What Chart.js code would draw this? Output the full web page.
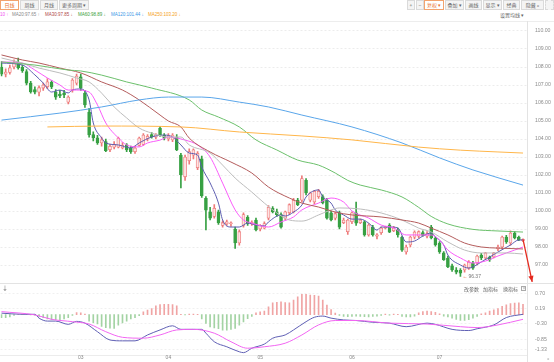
<!DOCTYPE html>
<html><head><meta charset="utf-8">
<script src="https://cdn.jsdelivr.net/npm/chart.js@4.4.1/dist/chart.umd.min.js"></script>
<style>
html,body{margin:0;padding:0;background:#fff;}
#wrap{position:relative;width:554px;height:362px;overflow:hidden;background:#fff;font-family:"Noto Sans CJK SC","Liberation Sans",sans-serif;}
.tab,.btn{position:absolute;top:0;height:10px;border:1px solid #dadada;background:#f4f4f4;color:#666;font-size:5px;line-height:8px;text-align:center;box-sizing:border-box;white-space:nowrap;}
.act{border-color:#f2a36e;background:#fff;color:#e8702a;}
.lg{position:absolute;top:12px;font-family:"Liberation Sans",sans-serif;font-size:4.5px;line-height:6px;white-space:nowrap;}
.hd{position:absolute;top:286px;font-size:5px;line-height:6px;color:#666;white-space:nowrap;}
.ln{position:absolute;background:#e3e3e3;}
canvas{position:absolute;left:0;}
</style></head>
<body><div id="wrap">
<div class="tab act" style="left:0;width:19px">日线</div>
<div class="tab" style="left:20px;width:19px">周线</div>
<div class="tab" style="left:40px;width:18px">月线</div>
<div class="tab" style="left:59px;width:30px">更多周期 ▾</div>
<div class="btn" style="left:407px;width:8px">+</div>
<div class="btn" style="left:416px;width:8px">−</div>
<div class="btn act" style="left:424px;width:20px">复权 ▾</div>
<div class="btn" style="left:445px;width:19px">叠加 ▾</div>
<div class="btn" style="left:465px;width:17px">画线</div>
<div class="btn" style="left:483px;width:19px">显示 ▾</div>
<div class="btn" style="left:503px;width:17px">经典</div>
<div class="btn" style="left:521px;width:23px">隐藏 »</div>
<div class="btn" style="left:545px;width:9px;border-style:dashed">&nbsp;</div>

<span class="lg" style="left:0;color:#f050f0">10 ↑</span>
<span class="lg" style="left:12px;color:#888">MA20:97.65 ↑</span>
<span class="lg" style="left:45px;color:#b04848">MA30:97.85 ↓</span>
<span class="lg" style="left:78px;color:#3a9e3a">MA60:98.89 ↓</span>
<span class="lg" style="left:111px;color:#3b96e6">MA120:101.44 ↓</span>
<span class="lg" style="left:148px;color:#f5a020">MA250:103.20 ↓</span>
<span class="lg" style="left:500px;color:#666;font-family:'Noto Sans CJK SC';font-size:5px">设置均线 ▾</span>

<div class="ln" style="left:0;top:21px;width:554px;height:1px;background:#ededed"></div>
<div class="ln" style="left:0;top:283px;width:554px;height:1px"></div>
<div class="ln" style="left:0;top:355px;width:527px;height:1px;background:#ececec"></div>
<div class="ln" style="left:527px;top:21px;width:1px;height:341px"></div>

<canvas id="main" width="554" height="261" style="top:22px"></canvas>
<canvas id="macd" width="554" height="79" style="top:283px"></canvas>

<span class="hd" style="left:2px;top:285px;font-size:6px">↓</span>
<span class="hd" style="left:464px">改参数</span>
<span class="hd" style="left:483px">加指标</span>
<span class="hd" style="left:503px">换指标</span>
<div style="position:absolute;left:521px;top:286px;width:5px;height:5px;border:1px solid #aaa;box-sizing:border-box;font-size:4px;line-height:3px;text-align:center;color:#888">×</div>
<span class="hd" style="left:547px;top:355px;color:#999">»</span>
</div>
<script>
// ---------- data ----------
const opens=[108.00,107.60,107.70,108.00,108.28,107.98,107.75,107.10,106.75,106.60,
106.83,106.90,107.15,106.60,106.50,106.55,106.05,106.72,107.10,107.45,
106.55,105.50,104.25,104.06,103.78,103.85,103.40,103.55,103.55,103.50,
103.67,103.50,103.30,103.65,103.70,104.00,104.25,104.10,104.60,104.20,
104.00,103.95,104.10,103.10,101.90,102.80,103.10,102.40,102.90,100.70,
99.95,99.70,99.95,99.20,99.28,99.30,99.00,98.22,99.20,99.65,
99.28,99.50,99.00,99.05,99.60,100.15,99.95,99.80,99.60,99.90,
99.95,100.60,100.60,101.70,100.60,100.50,100.80,100.80,100.60,99.90,
99.60,99.90,99.35,98.85,99.40,99.90,99.35,99.40,98.67,99.10,
98.60,98.80,99.05,99.22,98.90,98.94,98.55,97.72,98.11,98.55,
98.60,98.80,98.60,99.11,98.50,98.22,97.67,97.39,96.95,96.72,
96.70,96.72,96.83,97.11,97.11,97.55,97.39,97.44,97.44,97.89,
98.00,98.55,98.22,98.78,98.55,98.35];
const highs=[108.30,107.90,108.10,108.40,108.50,108.10,107.85,107.20,106.90,106.95,
107.10,107.35,107.25,106.75,106.70,106.70,106.40,107.35,107.60,107.60,
106.70,105.70,104.40,104.20,104.10,104.00,103.70,103.85,104.10,103.80,
103.75,103.60,103.60,104.10,104.30,104.25,104.35,104.30,104.70,104.30,
104.30,104.30,104.25,103.20,103.10,103.45,103.45,103.30,103.05,100.80,
100.20,100.35,100.05,99.45,99.50,99.40,99.10,98.95,99.90,99.75,
99.45,99.60,99.25,99.40,100.30,100.25,100.10,99.90,100.00,100.40,
100.70,100.70,101.95,101.80,101.05,101.15,101.20,100.90,100.70,100.00,
99.95,100.00,99.60,99.55,99.95,100.50,99.55,99.45,99.30,99.20,
98.75,99.10,99.15,99.30,99.15,99.05,98.60,98.10,98.60,98.90,
98.90,98.90,98.85,99.20,98.55,98.30,97.75,97.50,97.05,96.85,
96.80,97.05,97.25,97.20,97.55,97.65,97.70,97.50,97.70,98.10,
98.60,98.65,98.90,98.85,98.60,98.45];
const lows=[107.50,107.45,107.60,107.90,107.88,107.70,107.00,106.55,106.50,106.40,
106.70,106.80,106.80,106.20,106.30,106.30,105.95,106.60,107.00,106.70,
105.75,104.10,103.90,103.70,103.60,103.30,103.30,103.45,103.50,103.45,
103.30,103.20,103.20,103.60,103.65,103.90,104.05,104.00,104.15,103.95,
103.90,103.85,103.35,101.28,101.70,102.60,102.90,102.30,100.75,98.95,
99.50,99.60,99.25,99.10,99.20,99.15,97.92,98.10,99.10,99.20,
99.20,98.90,98.90,99.00,99.50,99.90,99.70,99.05,99.50,99.80,
99.90,100.30,100.50,100.90,100.50,100.40,100.70,100.40,99.55,99.45,
99.50,99.00,99.30,98.70,99.30,99.20,99.30,98.60,98.60,98.60,
98.45,98.70,99.00,98.80,98.85,98.55,97.75,97.60,98.00,98.45,
98.50,98.60,98.50,98.45,98.05,97.65,97.25,96.85,96.65,96.50,
96.37,96.60,96.75,96.75,97.00,97.30,97.30,97.20,97.40,97.80,
97.90,98.20,98.10,98.45,98.35,98.30];
const closes=[107.60,107.72,107.95,108.22,107.95,107.80,107.10,106.62,106.60,106.85,
107.00,107.18,106.90,106.32,106.40,106.45,106.33,107.28,107.50,106.83,
105.89,104.22,104.06,103.78,103.95,103.35,103.60,103.70,104.05,103.65,
103.40,103.30,103.50,104.05,104.22,104.15,104.12,104.25,104.20,104.05,
104.18,104.22,103.40,102.00,103.00,103.30,103.40,103.20,100.85,100.05,
99.60,100.15,99.35,99.35,99.40,99.34,98.22,98.85,99.80,99.30,
99.38,98.95,99.20,99.30,100.20,99.95,99.80,99.10,99.95,100.35,
100.60,100.35,101.80,101.00,101.00,101.10,101.10,100.45,99.60,99.50,
99.85,99.10,99.50,99.50,99.90,99.33,99.50,98.67,99.22,98.67,
98.68,99.05,99.12,98.83,99.06,98.67,97.83,98.00,98.55,98.83,
98.85,98.65,98.75,98.50,98.11,97.72,97.30,96.90,96.72,96.60,
96.55,97.00,97.17,96.83,97.50,97.39,97.67,97.28,97.67,98.00,
98.55,98.28,98.78,98.50,98.39,98.42];

// moving-average lines, read as [candle index, value]
const ma5=[[0,108.22],[5,108.11],[8,107.56],[10,107.11],[12,106.61],[14,106.72],[16,106.56],[17,106.72],[19,106.78],[21,106.17],[22,104.89],[24,104.06],[25,103.78],[28,103.67],[31,103.5],[33,103.78],[36,104.11],[39,104.22],[41,104.11],[43,103.67],[45,103.22],[47,103.11],[48,102.44],[50,101.56],[52,100.44],[53,99.5],[55,99.11],[57,99.11],[59,99.33],[61,99.22],[63,99.17],[64,99.39],[67,99.78],[68,99.72],[70,99.94],[72,100.33],[73,100.78],[76,101.17],[77,100.78],[79,100.44],[80,100.06],[82,99.78],[84,99.55],[86,99.55],[88,99.33],[90,98.94],[91,99.11],[93,99.11],[95,99.06],[97,98.28],[99,98.33],[101,98.61],[103,98.78],[104,98.56],[106,98.11],[107,97.55],[110,97.0],[112,96.83],[113,96.89],[115,97.17],[117,97.44],[119,97.72],[122,98.11],[124,98.39],[125,98.39]];
const ma10=[[0,108.28],[5,108.22],[8,107.83],[11,107.39],[14,107.0],[16,106.72],[18,106.72],[21,106.61],[23,105.89],[25,104.89],[28,104.06],[30,103.67],[33,103.56],[35,103.78],[38,103.94],[40,104.11],[44,103.94],[47,103.67],[50,103.0],[53,101.55],[56,100.06],[58,99.5],[60,99.33],[64,99.11],[67,99.39],[70,99.67],[72,100.06],[76,100.44],[79,100.72],[82,100.5],[84,100.0],[88,99.61],[91,99.22],[94,99.06],[97,98.67],[100,98.67],[103,98.67],[105,98.39],[107,97.83],[110,97.39],[113,97.11],[116,97.22],[119,97.5],[123,97.83],[125,98.0]];
const ma20=[[0,108.5],[5,108.22],[9,107.94],[14,107.67],[18,107.39],[21,107.17],[24,106.55],[27,105.78],[30,105.17],[33,104.61],[36,104.33],[40,104.11],[43,104.11],[45,103.67],[50,103.22],[53,102.55],[56,101.83],[60,101.05],[63,100.44],[66,99.89],[69,99.5],[72,99.44],[76,99.78],[79,100.06],[81,100.17],[86,100.11],[91,99.89],[96,99.5],[100,99.05],[103,98.83],[107,98.28],[111,97.83],[115,97.67],[121,97.67],[125,97.61]];
const ma30=[[0,108.67],[5,108.39],[9,108.22],[14,107.94],[19,107.67],[24,107.17],[29,106.72],[33,106.17],[38,105.33],[40,105.0],[43,104.67],[45,104.05],[50,103.28],[55,102.72],[60,102.11],[64,101.33],[69,100.72],[72,100.44],[76,100.22],[80,99.94],[84,99.78],[91,99.67],[96,99.5],[100,99.33],[103,99.05],[107,98.67],[111,98.22],[115,98.0],[119,97.94],[125,97.89]];
const ma60=[[0,108.28],[8,108.11],[16,107.83],[19,107.78],[24,107.55],[30,107.17],[36,106.83],[45,106.17],[48,105.61],[52,105.22],[57,104.67],[61,103.95],[66,103.39],[71,102.83],[76,102.55],[80,102.11],[83,101.7],[86,101.44],[91,101.17],[96,100.78],[100,100.2],[103,99.7],[107,99.28],[113,98.98],[119,98.89],[125,98.83]];
const ma120=[[0,105.05],[14,105.44],[24,105.78],[33,106.17],[40,106.33],[48,106.33],[57,106.05],[64,105.78],[72,105.33],[84,104.67],[96,103.78],[105,102.95],[113,102.28],[125,101.44]];
const ma250=[[11,104.67],[24,104.72],[43,104.67],[57,104.39],[72,104.17],[84,103.95],[100,103.55],[110,103.38],[119,103.28],[125,103.22]];

// MACD
const macdHist=[-0.10,-0.10,-0.08,-0.03,0.00,0.01,0.00,-0.01,-0.02,-0.06,
-0.10,-0.15,-0.17,-0.17,-0.17,-0.15,-0.10,-0.03,0.07,0.06,
0.02,-0.22,-0.27,-0.32,-0.40,-0.44,-0.46,-0.47,-0.36,-0.28,
-0.22,-0.15,-0.10,-0.04,0.09,0.15,0.20,0.30,0.34,0.35,
0.35,0.34,0.30,0.01,-0.01,0.02,0.02,0.01,-0.15,-0.30,
-0.42,-0.45,-0.48,-0.53,-0.53,-0.50,-0.47,-0.36,-0.25,-0.14,
-0.06,0.06,0.09,0.12,0.26,0.40,0.42,0.43,0.41,0.40,
0.49,0.60,0.69,0.69,0.66,0.65,0.63,0.49,0.32,0.17,
0.05,-0.03,-0.06,-0.07,-0.06,-0.05,-0.06,-0.07,-0.08,-0.06,
-0.05,-0.03,0.02,-0.02,0.02,0.01,-0.06,-0.08,-0.08,-0.05,
0.06,0.10,0.12,0.10,0.08,0.03,-0.05,-0.08,-0.12,-0.16,
-0.20,-0.20,-0.17,-0.12,-0.06,0.03,0.06,0.12,0.16,0.20,
0.28,0.33,0.37,0.39,0.40,0.35];
const dif=[[0,0.05],[5,0.01],[8,0.01],[9,-0.12],[11,-0.22],[13,-0.22],[16,-0.33],[18,-0.23],[20,-0.29],[23,-0.58],[26,-0.86],[29,-0.89],[32,-0.89],[35,-0.69],[38,-0.52],[41,-0.38],[43,-0.5],[46,-0.5],[48,-0.5],[49,-0.63],[51,-0.92],[54,-1.09],[57,-1.26],[58,-1.29],[60,-1.14],[63,-1.0],[65,-0.8],[68,-0.69],[70,-0.52],[73,-0.24],[75,-0.09],[77,-0.05],[79,-0.12],[82,-0.18],[85,-0.2],[89,-0.26],[93,-0.29],[97,-0.41],[102,-0.29],[104,-0.33],[108,-0.5],[112,-0.54],[114,-0.48],[118,-0.35],[121,-0.1],[125,0.01]];
const dea=[[0,0.1],[8,-0.01],[12,-0.16],[17,-0.24],[21,-0.32],[25,-0.58],[29,-0.77],[34,-0.8],[38,-0.69],[42,-0.52],[46,-0.5],[51,-0.63],[55,-0.92],[59,-1.14],[63,-1.09],[68,-0.97],[72,-0.69],[76,-0.35],[80,-0.2],[85,-0.2],[93,-0.29],[102,-0.32],[110,-0.41],[114,-0.44],[119,-0.35],[125,-0.16]];

const yTicks=[110,109,108,107,106,105,104,103,102,101,100,99,98,97];
const macdTicks=[0.70,0.19,-0.30,-0.85,-1.17];
const macdTickLabels=["0.70","0.19","-0.30","-0.85","-1.33"];
const monthIdx=[19,40,62,84,105];
const monthLabels=["03","04","05","06","07"];
const arrowEnd=[127.2,96.06];

// ---------- layout constants ----------
const X0=1, DX=4.176;            // page x of candle 0, px per candle
const MAIN_TOP=22, MAIN_REF_Y=31, MAIN_REF_V=110, MAIN_PPU=18;
const MACD_TOP=283, MACD_REF_Y=314.6, MACD_REF_V=0, MACD_PPU=29.5;

const UP_FILL='#fde3e3', UP_LINE='#ee7a7a', DN='#37a043';
const idx=closes.map((_,i)=>i);
const isUp=idx.map(i=>closes[i]>=opens[i]);
const pts=a=>a.map(p=>({x:p[0],y:p[1]}));
function lineDs(data,color){return {type:'line',data:pts(data),borderColor:color,borderWidth:1,pointRadius:0,cubicInterpolationMode:'monotone',order:0};}

Chart.defaults.font.family='Liberation Sans';

const overlay={id:'overlay',afterDatasetsDraw(chart){
  const xs=chart.scales.x, ys=chart.scales.y, c=chart.ctx;
  // low label
  let li=0; lows.forEach((v,i)=>{if(v<lows[li])li=i;});
  const lx=xs.getPixelForValue(li), ly=ys.getPixelForValue(lows[li]);
  c.save();
  c.font='5px "Liberation Sans"'; c.textBaseline='middle';
  c.fillStyle='#e0602e'; c.fillText('←',lx+2,ly);
  c.fillStyle='#777'; c.fillText(lows[li].toFixed(2),lx+8,ly);
  // red arrow
  const last=closes.length-1;
  const x1=xs.getPixelForValue(last), y1=ys.getPixelForValue(closes[last]);
  const x2=xs.getPixelForValue(arrowEnd[0]), y2=ys.getPixelForValue(arrowEnd[1]);
  c.strokeStyle='#e52a1f'; c.fillStyle='#e52a1f'; c.lineWidth=1.3;
  c.beginPath(); c.moveTo(x1,y1); c.lineTo(x2,y2); c.stroke();
  const a=Math.atan2(y2-y1,x2-x1), L=6, W=2.6;
  c.beginPath(); c.moveTo(x2,y2);
  c.lineTo(x2-L*Math.cos(a)+W*Math.sin(a), y2-L*Math.sin(a)-W*Math.cos(a));
  c.lineTo(x2-L*Math.cos(a)-W*Math.sin(a), y2-L*Math.sin(a)+W*Math.cos(a));
  c.closePath(); c.fill();
  c.restore();
}};

const main=new Chart(document.getElementById('main'),{
  type:'bar',
  data:{datasets:[
    lineDs(ma250,'#ffb64a'), lineDs(ma120,'#5aa6ea'), lineDs(ma60,'#6cc06c'),
    lineDs(ma30,'#b45c5c'), lineDs(ma20,'#bdbdbd'), lineDs(ma10,'#fa5cfa'), lineDs(ma5,'#5d5db0'),
    {type:'bar',data:idx.map(i=>({x:i,y:[opens[i],closes[i]]})),
     backgroundColor:idx.map(i=>isUp[i]?UP_FILL:DN),borderColor:idx.map(i=>isUp[i]?UP_LINE:DN),
     borderWidth:0.8,borderSkipped:false,barThickness:3,grouped:false,order:1},
    {type:'bar',data:idx.map(i=>({x:i,y:[lows[i],highs[i]]})),
     backgroundColor:idx.map(i=>isUp[i]?UP_LINE:DN),borderWidth:0,barThickness:1,grouped:false,order:2}
  ]},
  options:{animation:false,responsive:false,events:[],layout:{padding:0},
    plugins:{legend:{display:false},tooltip:{enabled:false}},
    scales:{
      x:{type:'linear',min:-0.24,max:126,display:false,offset:false},
      y:{type:'linear',position:'right',min:96,max:110.5,
        afterBuildTicks:s=>{s.ticks=yTicks.map(v=>({value:v}));},
        afterFit:s=>{s.width=27;},
        ticks:{font:{size:5.2,lineHeight:1},color:'#8c8c8c',padding:0,callback:v=>Number(v).toFixed(2)},
        grid:{color:'#ececec',drawTicks:true,tickLength:8,tickColor:'rgba(0,0,0,0)'},
        border:{display:false,dash:[2,2]}}
    }},
  plugins:[overlay]
});

const macd=new Chart(document.getElementById('macd'),{
  type:'bar',
  data:{datasets:[
    {type:'line',data:pts(dea),borderColor:'#f266f2',borderWidth:1,pointRadius:0,cubicInterpolationMode:'monotone',order:0},
    {type:'line',data:pts(dif),borderColor:'#5f5fb4',borderWidth:1,pointRadius:0,cubicInterpolationMode:'monotone',order:0},
    {type:'bar',data:idx.map(i=>({x:i,y:macdHist[i]})),
     backgroundColor:macdHist.map(v=>v>=0?'#f0a4a4':'#a3d3a3'),barThickness:1,grouped:false,order:1}
  ]},
  options:{animation:false,responsive:false,events:[],layout:{padding:0},
    plugins:{legend:{display:false},tooltip:{enabled:false}},
    scales:{
      x:{type:'linear',min:-0.24,max:126,offset:false,
        afterBuildTicks:s=>{s.ticks=monthIdx.map(v=>({value:v}));},
        ticks:{font:{size:5},color:'#888',padding:1,autoSkip:false,maxRotation:0,
          callback:v=>monthLabels[monthIdx.indexOf(v)]},
        grid:{display:false,drawTicks:false},border:{display:false}},
      y:{type:'linear',position:'right',min:-1.33,max:1.0,
        afterBuildTicks:s=>{s.ticks=macdTicks.map(v=>({value:v}));},
        afterFit:s=>{s.width=27;},
        ticks:{font:{size:5.2,lineHeight:1},color:'#8c8c8c',padding:0,
          callback:v=>macdTickLabels[macdTicks.indexOf(v)]},
        grid:{color:'#f0f0f0',drawTicks:true,tickLength:8,tickColor:'rgba(0,0,0,0)'},
        border:{display:false,dash:[2,2]}}
    }}
});

function fit(chart,top,refY,refV,ppu){
  const ca=chart.chartArea, o=chart.options.scales;
  o.y.max=refV+(refY-(top+ca.top))/ppu;
  o.y.min=refV-((top+ca.bottom)-refY)/ppu;
  o.x.min=(ca.left-X0)/DX;
  o.x.max=(ca.right-X0)/DX;
  chart.update('none');
}
fit(main,MAIN_TOP,MAIN_REF_Y,MAIN_REF_V,MAIN_PPU);
fit(macd,MACD_TOP,MACD_REF_Y,MACD_REF_V,MACD_PPU);
</script>
</body></html>
